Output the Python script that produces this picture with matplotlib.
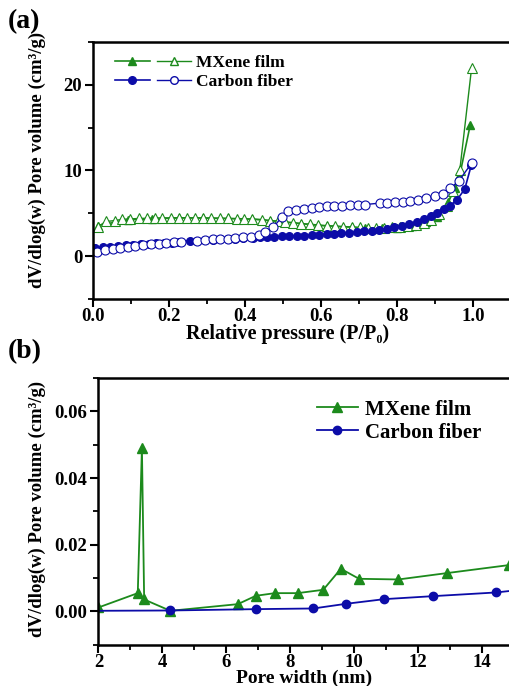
import matplotlib
matplotlib.use('Agg')
import matplotlib.pyplot as plt
from matplotlib.lines import Line2D
from matplotlib.legend_handler import HandlerTuple
from matplotlib.ticker import MultipleLocator

plt.rcParams['font.family'] = ['Liberation Serif', 'DejaVu Serif']
plt.rcParams['font.weight'] = 'bold'

green = '#1c8a1c'
blue = '#0c0ca8'

# (a) isotherms, relative pressure P/P0
mx_ads_p = [0.011, 0.092, 0.154, 0.226, 0.290, 0.355, 0.417, 0.465, 0.548, 0.614, 0.680,
            0.715, 0.760, 0.800, 0.838, 0.877, 0.905, 0.934, 0.952, 0.964, 0.992]
mx_ads_v = [3.58, 4.25, 4.36, 4.47, 4.45, 4.40, 4.33, 4.15, 3.80, 3.55, 3.40,
            3.27, 3.25, 3.30, 3.47, 3.97, 4.60, 6.30, 7.90, 9.30, 15.25]

mx_des_p = [0.011, 0.033, 0.056, 0.075, 0.097, 0.119, 0.141, 0.162, 0.182, 0.205, 0.226,
            0.246, 0.268, 0.290, 0.311, 0.333, 0.355, 0.377, 0.397, 0.417, 0.443, 0.465,
            0.485, 0.504, 0.526, 0.548, 0.570, 0.592, 0.614, 0.636, 0.658, 0.680, 0.702,
            0.724, 0.745, 0.766, 0.787, 0.808, 0.829, 0.850, 0.870, 0.890, 0.910, 0.930,
            0.948, 0.965, 0.996]
mx_des_v = [3.40, 4.05, 4.15, 4.30, 4.35, 4.40, 4.43, 4.45, 4.47, 4.47, 4.47,
            4.47, 4.47, 4.45, 4.45, 4.43, 4.40, 4.38, 4.35, 4.33, 4.28, 4.15,
            4.10, 4.00, 3.90, 3.80, 3.70, 3.60, 3.55, 3.50, 3.43, 3.40, 3.35,
            3.30, 3.30, 3.30, 3.35, 3.40, 3.50, 3.65, 3.85, 4.20, 4.90, 5.90,
            7.60, 10.10, 22.00]

cf_ads_p = [0.005, 0.025, 0.045, 0.065, 0.085, 0.105, 0.126, 0.146, 0.166, 0.186, 0.206,
            0.226, 0.254, 0.274, 0.294, 0.314, 0.334, 0.354, 0.374, 0.395, 0.421, 0.439,
            0.456, 0.476, 0.496, 0.516, 0.535, 0.554, 0.575, 0.595, 0.614, 0.633, 0.653,
            0.673, 0.693, 0.712, 0.733, 0.753, 0.772, 0.791, 0.812, 0.832, 0.851, 0.870,
            0.889, 0.905, 0.922, 0.939, 0.958, 0.978, 0.995]
cf_ads_v = [0.95, 1.05, 1.12, 1.20, 1.27, 1.33, 1.40, 1.45, 1.50, 1.55, 1.60,
            1.66, 1.75, 1.80, 1.85, 1.90, 1.95, 2.00, 2.04, 2.08, 2.15, 2.20,
            2.24, 2.27, 2.30, 2.33, 2.37, 2.40, 2.45, 2.50, 2.55, 2.62, 2.68,
            2.76, 2.82, 2.90, 2.98, 3.10, 3.22, 3.35, 3.52, 3.75, 4.00, 4.30,
            4.65, 5.00, 5.45, 5.90, 6.60, 7.85, 10.60]

cf_des_p = [0.009, 0.031, 0.051, 0.071, 0.091, 0.111, 0.132, 0.152, 0.172, 0.192, 0.212,
            0.232, 0.274, 0.294, 0.314, 0.334, 0.354, 0.374, 0.395, 0.415, 0.436, 0.453,
            0.474, 0.496, 0.513, 0.533, 0.554, 0.575, 0.595, 0.614, 0.634, 0.654, 0.675,
            0.696, 0.716, 0.754, 0.774, 0.794, 0.814, 0.835, 0.856, 0.877, 0.899, 0.921,
            0.940, 0.963, 0.996]
cf_des_v = [0.54, 0.74, 0.86, 0.97, 1.09, 1.21, 1.32, 1.40, 1.48, 1.56, 1.63,
            1.71, 1.83, 1.91, 1.95, 2.02, 2.06, 2.14, 2.21, 2.29, 2.53, 2.84,
            3.39, 4.55, 5.25, 5.41, 5.53, 5.64, 5.72, 5.80, 5.84, 5.91, 5.95,
            5.99, 6.03, 6.19, 6.26, 6.30, 6.38, 6.42, 6.55, 6.75, 7.00, 7.30,
            7.90, 8.83, 10.85]

# (b) pore size distribution
mx_w = [2.0, 3.23, 3.36, 3.43, 4.25, 6.36, 6.92, 7.52, 8.23, 9.03, 9.58, 10.15, 11.38, 12.89, 14.83]
mx_dv = [0.0012, 0.0055, 0.0490, 0.0036, 0.0002, 0.0022, 0.0047, 0.0055, 0.0055, 0.0065,
         0.0128, 0.0098, 0.0096, 0.0115, 0.0139]
cf_w = [1.8, 4.25, 6.92, 8.72, 9.74, 10.94, 12.47, 14.43, 15.2]
cf_dv = [0.0002, 0.0003, 0.0007, 0.0009, 0.0023, 0.0037, 0.0046, 0.0057, 0.0065]

fig = plt.figure(figsize=(5.10, 6.86), dpi=100)
ax1 = fig.add_axes([0.183, 0.564, 0.817, 0.375])
ax2 = fig.add_axes([0.193, 0.060, 0.807, 0.389])


def style(ax):
    for s in ['left', 'bottom', 'top']:
        ax.spines[s].set_linewidth(1.8)
    ax.spines['right'].set_visible(False)
    ax.tick_params(which='major', direction='out', length=6, width=1.5,
                   labelsize=13.5, top=False, right=False)
    ax.tick_params(axis='x', which='major', pad=0.5)
    ax.tick_params(axis='y', which='major', pad=2)
    ax.tick_params(which='minor', direction='out', length=3.5, width=1.3,
                   top=False, right=False)
    for lab in ax.get_xticklabels() + ax.get_yticklabels():
        lab.set_fontweight('bold')


# panel a
ax1.plot(mx_ads_p, mx_ads_v, '-^', color=green, lw=1.2, ms=6, mfc=green, mec=green)
ax1.plot(mx_des_p, mx_des_v, '-^', color=green, lw=1.0, ms=7, mfc='white', mec=green, mew=0.8)
ax1.plot(cf_ads_p, cf_ads_v, '-o', color=blue, lw=1.2, ms=5.5, mfc=blue, mec=blue)
ax1.plot(cf_des_p, cf_des_v, '-o', color=blue, lw=1.0, ms=6.5, mfc='white', mec=blue, mew=0.8)
ax1.set_xlim(0, 1.097)
ax1.set_ylim(-5, 25)
ax1.xaxis.set_major_locator(MultipleLocator(0.2))
ax1.xaxis.set_minor_locator(MultipleLocator(0.1))
ax1.yaxis.set_major_locator(MultipleLocator(10))
ax1.yaxis.set_minor_locator(MultipleLocator(5))
ax1.set_yticks([0, 10, 20])
ax1.set_xticks([0.0, 0.2, 0.4, 0.6, 0.8, 1.0])
ax1.set_xticklabels(['0.0', '0.2', '0.4', '0.6', '0.8', '1.0'])
style(ax1)
ax1.set_xlabel('Relative pressure (P/P₀)', fontsize=14.5, fontweight='bold')
ax1.xaxis.set_label_coords(0.465, -0.096)
ax1.set_ylabel('dV/dlog(w) Pore volume (cm³/g)', fontsize=13.5, fontweight='bold')
ax1.yaxis.set_label_coords(-0.113, 0.54)

h1 = Line2D([], [], color=green, marker='^', ms=6, mfc=green, lw=1.2)
h2 = Line2D([], [], color=green, marker='^', ms=6, mfc='white', lw=1.0)
h3 = Line2D([], [], color=blue, marker='o', ms=5.5, mfc=blue, lw=1.2)
h4 = Line2D([], [], color=blue, marker='o', ms=5.5, mfc='white', lw=1.0)
ax1.legend([(h1, h2), (h3, h4)], ['MXene film', 'Carbon fiber'],
           handler_map={tuple: HandlerTuple(ndivide=None, pad=0.4)},
           loc='upper left', bbox_to_anchor=(0.035, 0.975), frameon=False,
           handlelength=4.4, handletextpad=0.3, labelspacing=0.12,
           borderaxespad=0, prop={'size': 12.5, 'weight': 'bold'})
fig.text(0.015, 0.987, '(a)', fontsize=20, fontweight='bold', va='top', ha='left')

# panel b
ax2.plot(mx_w, mx_dv, '-^', color=green, lw=1.3, ms=6.5, label='MXene film')
ax2.plot(cf_w, cf_dv, '-o', color=blue, lw=1.3, ms=6, label='Carbon fiber')
ax2.set_xlim(2, 14.87)
ax2.set_ylim(-0.01, 0.07)
ax2.xaxis.set_major_locator(MultipleLocator(2))
ax2.xaxis.set_minor_locator(MultipleLocator(1))
ax2.yaxis.set_major_locator(MultipleLocator(0.02))
ax2.yaxis.set_minor_locator(MultipleLocator(0.01))
ax2.set_yticks([0.0, 0.02, 0.04, 0.06])
ax2.set_yticklabels(['0.00', '0.02', '0.04', '0.06'])
ax2.set_xticks([2, 4, 6, 8, 10, 12, 14])
style(ax2)
ax2.set_xlabel('Pore width (nm)', fontsize=14, fontweight='bold')
ax2.xaxis.set_label_coords(0.50, -0.092)
ax2.set_ylabel('dV/dlog(w) Pore volume (cm³/g)', fontsize=13.5, fontweight='bold')
ax2.yaxis.set_label_coords(-0.128, 0.51)
ax2.legend(loc='upper left', bbox_to_anchor=(0.51, 0.95), frameon=False,
           handlelength=2.0, handletextpad=0.3, labelspacing=0.15,
           borderaxespad=0, prop={'size': 15, 'weight': 'bold'})
fig.text(0.015, 0.505, '(b)', fontsize=20, fontweight='bold', va='top', ha='left')

fig.savefig('out.png', dpi=100)
